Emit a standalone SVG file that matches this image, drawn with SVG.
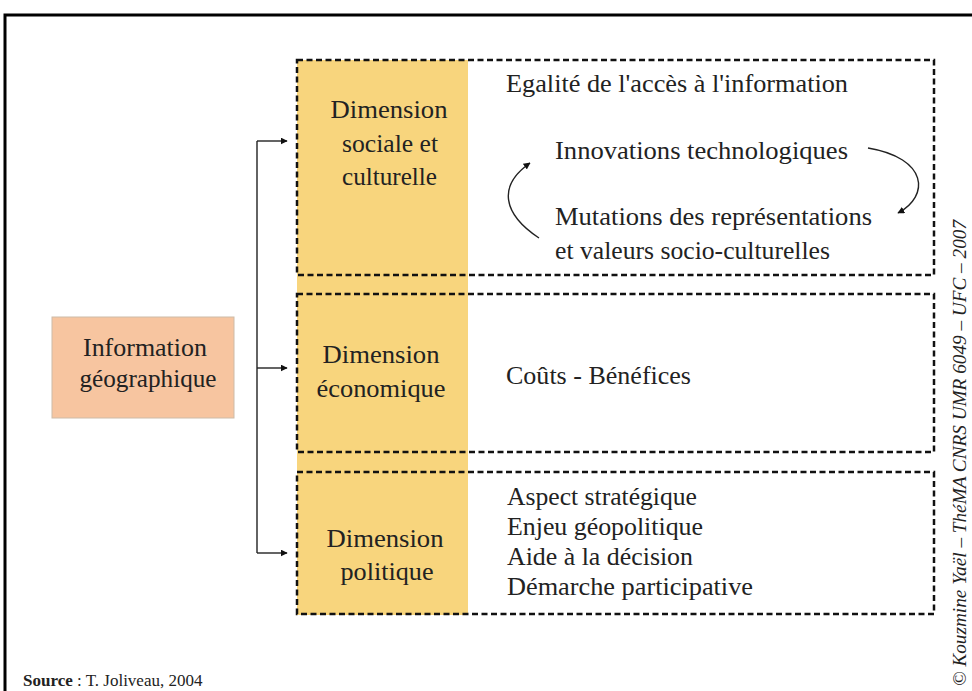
<svg xmlns="http://www.w3.org/2000/svg" width="972" height="691" viewBox="0 0 972 691">
<defs>
<marker id="ah" viewBox="0 0 10 10" refX="9" refY="5" markerWidth="7" markerHeight="7" markerUnits="userSpaceOnUse" orient="auto"><path d="M0,0 L10,5 L0,10 z" fill="#111"/></marker>
<style>
.t{font-size:25px;fill:#222}
.c{text-anchor:middle}
.dash{fill:none;stroke:#111;stroke-width:2.5;stroke-dasharray:6 3.5}
.ln{fill:none;stroke:#222;stroke-width:1.4}
</style>
</defs>
<rect x="0" y="0" width="972" height="691" fill="#fff"/>
<rect x="5" y="15" width="1000" height="720" fill="none" stroke="#000" stroke-width="3"/>

<rect x="297" y="60" width="171" height="555" fill="#F8D57D"/>

<g font-family="'Liberation Serif', 'Times New Roman', serif">
<g id="info">
<rect x="52" y="317" width="182" height="101" fill="#F7C5A0" stroke="#cdbba8" stroke-width="1"/>
<text class="t c" x="145" y="356" textLength="124" lengthAdjust="spacingAndGlyphs">Information</text>
<text class="t c" x="148" y="387" textLength="137" lengthAdjust="spacingAndGlyphs">géographique</text>
</g>

<g id="sociale">
<rect class="dash" x="297" y="60" width="637" height="215"/>
<text class="t c" x="389" y="118" textLength="117" lengthAdjust="spacingAndGlyphs">Dimension</text>
<text class="t c" x="390" y="152" textLength="96" lengthAdjust="spacingAndGlyphs">sociale et</text>
<text class="t c" x="389.5" y="185" textLength="95" lengthAdjust="spacingAndGlyphs">culturelle</text>
<text class="t" x="506" y="92" textLength="342" lengthAdjust="spacingAndGlyphs">Egalité de l'accès à l'information</text>
<text class="t" x="555" y="159" textLength="293" lengthAdjust="spacingAndGlyphs">Innovations technologiques</text>
<text class="t" x="555" y="225" textLength="317" lengthAdjust="spacingAndGlyphs">Mutations des représentations</text>
<text class="t" x="555" y="259" textLength="275" lengthAdjust="spacingAndGlyphs">et valeurs socio-culturelles</text>
</g>

<g id="economique">
<rect class="dash" x="297" y="294" width="637" height="158"/>
<text class="t c" x="381" y="363" textLength="117" lengthAdjust="spacingAndGlyphs">Dimension</text>
<text class="t c" x="381" y="397" textLength="129" lengthAdjust="spacingAndGlyphs">économique</text>
<text class="t" x="506" y="384" textLength="185" lengthAdjust="spacingAndGlyphs">Coûts - Bénéfices</text>
</g>

<g id="politique">
<rect class="dash" x="297" y="472" width="637" height="142"/>
<text class="t c" x="385" y="547" textLength="117" lengthAdjust="spacingAndGlyphs">Dimension</text>
<text class="t c" x="387" y="580" textLength="93" lengthAdjust="spacingAndGlyphs">politique</text>
<text class="t" x="507" y="505" textLength="190" lengthAdjust="spacingAndGlyphs">Aspect stratégique</text>
<text class="t" x="507" y="535" textLength="196" lengthAdjust="spacingAndGlyphs">Enjeu géopolitique</text>
<text class="t" x="507" y="565" textLength="186" lengthAdjust="spacingAndGlyphs">Aide à la décision</text>
<text class="t" x="507" y="595" textLength="246" lengthAdjust="spacingAndGlyphs">Démarche participative</text>
</g>

<text x="23" y="686" font-size="17" fill="#222"><tspan font-weight="bold">Source</tspan> : T. Joliveau, 2004</text>

<text transform="translate(966,686) rotate(-90)" font-size="19" font-style="italic" fill="#222" textLength="466" lengthAdjust="spacingAndGlyphs">© Kouzmine Yaël – ThéMA CNRS UMR 6049 – UFC – 2007</text>
</g>

<g id="connectors">
<path class="ln" d="M257,141 V553"/>
<path class="ln" d="M257,141 H287" marker-end="url(#ah)"/>
<path class="ln" d="M257,368 H287" marker-end="url(#ah)"/>
<path class="ln" d="M257,553 H287" marker-end="url(#ah)"/>
<path class="ln" d="M539,238 C503,214 497,186 530,163" marker-end="url(#ah)"/>
<path class="ln" d="M868,148 C928,158 930,196 898,213" marker-end="url(#ah)"/>
</g>
</svg>
